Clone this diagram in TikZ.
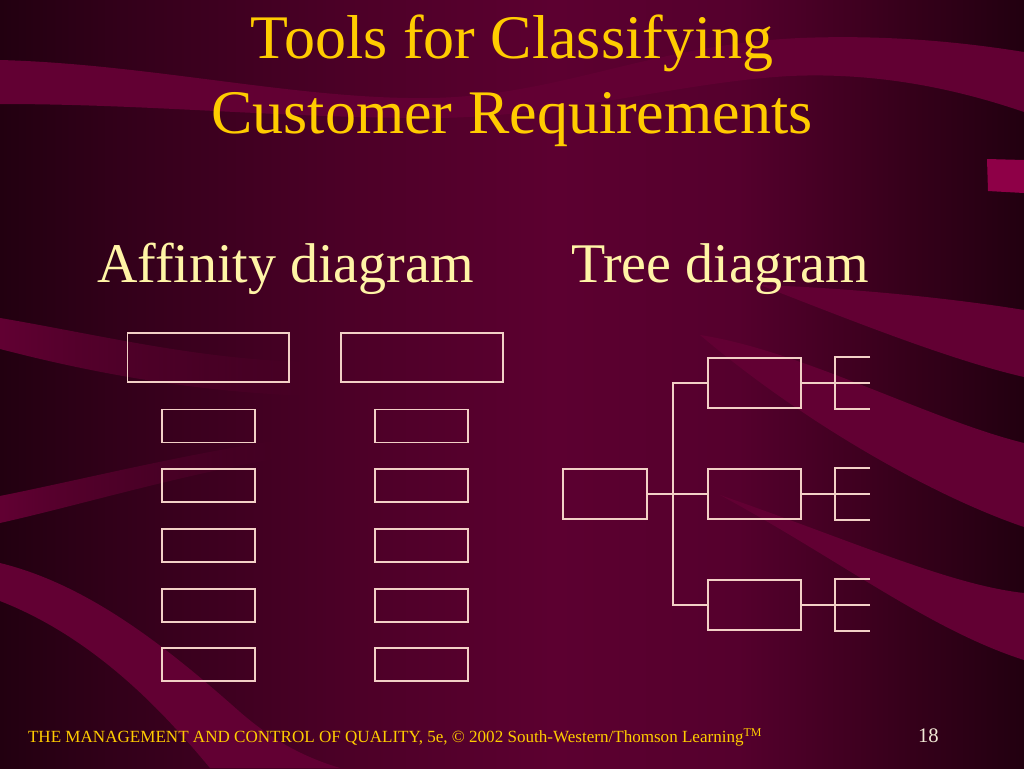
\documentclass[tikz,border=0pt]{standalone}
\usepackage{fontspec}
\setmainfont{Liberation Serif}
\usetikzlibrary{positioning,fadings}

\definecolor{bgA}{HTML}{220010}
\definecolor{bgB}{HTML}{33001A}
\definecolor{bgC}{HTML}{4C0027}
\definecolor{bgD}{HTML}{5C0030}
\definecolor{bgE}{HTML}{55002D}
\definecolor{bgF}{HTML}{37001B}
\definecolor{bgG}{HTML}{220010}
\definecolor{ribbon}{HTML}{620033}
\definecolor{titleyellow}{HTML}{FFCC00}
\definecolor{subyellow}{HTML}{FFF4A6}
\definecolor{boxline}{HTML}{F2D0C6}
\definecolor{pagenum}{HTML}{F2EAD6}
\definecolor{tabmagenta}{HTML}{8E0047}

\pgfdeclarehorizontalshading{slidebg}{100bp}{color(0bp)=(bgA); color(25bp)=(bgA);
  color(31bp)=(bgB); color(42bp)=(bgC); color(52bp)=(bgD); color(61bp)=(bgE);
  color(69bp)=(bgF); color(75bp)=(bgG); color(100bp)=(bgG)}
\tikzfading[name=fade out right, left color=transparent!0, right color=transparent!100]

\begin{document}
\begin{tikzpicture}[
    x=0.75pt, y=-0.75pt,
    every node/.style={inner sep=0pt, outer sep=0pt},
    box/.style={draw=boxline, line width=1.4pt},
    headbox/.style={box, minimum width=121.3pt, minimum height=37.2pt},
    cardbox/.style={box, minimum width=70pt, minimum height=24.8pt},
    rootbox/.style={box, minimum width=63.5pt, minimum height=37.5pt},
    midbox/.style={box, minimum width=70pt, minimum height=37.7pt},
    branch/.style={draw=boxline, line width=1.4pt},
    title/.style={anchor=base, text=titleyellow, font=\fontsize{46.5pt}{56pt}\selectfont},
    subtitle/.style={anchor=base west, text=subyellow, font=\fontsize{42pt}{48pt}\selectfont}
  ]

  % Background and its ribbons
  \useasboundingbox (0,0) rectangle (1024,768);
  \shade[shading=slidebg] (0,0) rectangle (1024,768);
  \fill[ribbon] (0,60) .. controls (150,64) and (300,100) .. (430,98)
    .. controls (560,96) and (650,45) .. (800,38) .. controls (900,34) and (980,45) .. (1024,52)
    -- (1024,112) .. controls (960,90) and (880,72) .. (790,76)
    .. controls (680,82) and (560,118) .. (430,118) .. controls (280,118) and (150,104) .. (0,104) -- cycle;
  \fill[ribbon, path fading=fade out right] (0,318) .. controls (100,335) and (200,360) .. (310,362)
    -- (310,396) .. controls (200,392) and (100,375) .. (0,349) -- cycle;
  \fill[ribbon, path fading=fade out right] (0,496) .. controls (80,480) and (180,455) .. (280,440)
    -- (280,458) .. controls (180,475) and (80,505) .. (0,523) -- cycle;
  \fill[ribbon] (0,563) .. controls (90,585) and (170,650) .. (240,712)
    .. controls (270,738) and (300,756) .. (340,768) -- (210,768)
    .. controls (170,720) and (100,640) .. (0,601) -- cycle;
  \fill[ribbon] (760,285) .. controls (850,288) and (950,298) .. (1024,310)
    -- (1024,377) .. controls (950,360) and (850,320) .. (760,285) -- cycle;
  \fill[ribbon] (700,335) .. controls (800,350) and (930,420) .. (1024,443)
    -- (1024,527) .. controls (930,495) and (800,420) .. (700,335) -- cycle;
  \fill[ribbon] (720,495) .. controls (850,540) and (950,585) .. (1024,593)
    -- (1024,660) .. controls (930,630) and (840,560) .. (720,495) -- cycle;
  \fill[tabmagenta] (987,159) -- (1024,160) -- (1024,193) -- (988,191) -- cycle;

  % Titles
  \node[title] (title1) at (512,58) {Tools for Classifying};
  \node[title] (title2) at (512,133) {Customer Requirements};
  \node[subtitle] (affinity) at (97,282) {Affinity diagram};
  \node[subtitle] (tree) at (571,282) {Tree diagram};

  % Affinity diagram: two headers, five cards under each
  \node[headbox] (headA) at (208.3,357.5) {};
  \node[headbox] (headB) at (421.7,357.5) {};
  \foreach \i in {1,...,5} {
    \node[cardbox] (cardA\i) at (208.3,{426+59.7*(\i-1)}) {};
    \node[cardbox] (cardB\i) at (421.7,{426+59.7*(\i-1)}) {};
  }

  % Tree diagram
  \node[rootbox] (root) at (605,494) {};
  \node[midbox, right=45.3pt of root] (mid2) {};
  \node[midbox, above=45.5pt of mid2] (mid1) {};
  \node[midbox, below=45.5pt of mid2] (mid3) {};
  \coordinate[right=19.5pt of root.east] (trunk);
  \draw[branch] (root) -- (mid2);
  \draw[branch] (mid1.west) -| (trunk) |- (mid3.west);
  \foreach \i in {1,2,3} {
    \coordinate[right=25.7pt of mid\i.east] (fork\i);
    \coordinate[right=51.8pt of mid\i.east] (leaf\i);
    \draw[branch] (mid\i.east) -- (leaf\i);
    \draw[branch] ([yshift=19.5pt]leaf\i) -| ([yshift=-19.5pt]fork\i) -- ([yshift=-19.5pt]leaf\i);
  }

  % Footer
  \node[anchor=base west, text=titleyellow, font=\fontsize{12.8pt}{15pt}\selectfont] (footer) at (28,742)
    {THE MANAGEMENT AND CONTROL OF QUALITY, 5e, © 2002 South-Western/Thomson Learning\textsuperscript{TM}};
  \node[anchor=base west, text=pagenum, font=\fontsize{15.5pt}{18pt}\selectfont] (page) at (918,742) {18};
\end{tikzpicture}
\end{document}
